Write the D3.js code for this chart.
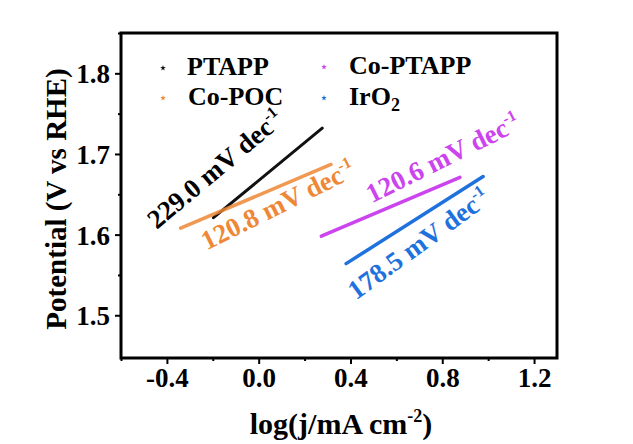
<!DOCTYPE html>
<html>
<head>
<meta charset="utf-8">
<script src="https://cdn.jsdelivr.net/npm/d3@7"></script>
<style>
    body { margin: 0; background: #fff; }
    text { font-family: "Liberation Serif", "Times New Roman", serif; font-weight: bold; }
</style>
</head>
<body>
<div id="chart"></div>
<script>
// Tafel data (start and end of each fitted segment)
var seriesNames = ["PTAPP", "Co-POC", "Co-PTAPP", "IrO2"];
var xStart = [-0.197, -0.34, 0.273, 0.381];
var xEnd = [0.277, 0.315, 0.877, 0.978];
var yStart = [1.621, 1.608, 1.598, 1.564];
var yEnd = [1.732, 1.687, 1.671, 1.672];
var slopeLabels = ["229.0", "120.8", "120.6", "178.5"];

var xTicks = [-0.4, 0.0, 0.4, 0.8, 1.2];
var xMinor = [-0.6, -0.2, 0.2, 0.6, 1.0];
var yTicks = [1.5, 1.6, 1.7, 1.8];
var yMinor = [1.55, 1.65, 1.75, 1.85];

var colors = ["#111111", "#ee8836", "#cc44ee", "#1f72dd"];

var width = 633, height = 444;
var margin = { top: 33, right: 76, bottom: 86, left: 121 };

var svg = d3
    .select("#chart")
    .append("svg")
    .attr("width", width)
    .attr("height", height);

var x = d3.scaleLinear().domain([-0.6, 1.3]).range([margin.left, width - margin.right]);
var y = d3.scaleLinear().domain([1.447, 1.85]).range([height - margin.bottom, margin.top]);

// axes
var xAxis = svg
    .append("g")
    .attr("transform", `translate(0,${height - margin.bottom})`)
    .call(d3.axisBottom(x).tickValues(xTicks).tickFormat(d3.format(".1f")).tickSize(6).tickPadding(4));
var xAxisMinor = svg
    .append("g")
    .attr("transform", `translate(0,${height - margin.bottom})`)
    .call(d3.axisBottom(x).tickValues(xMinor).tickFormat("").tickSize(3));

var yAxis = svg
    .append("g")
    .attr("transform", `translate(${margin.left},0)`)
    .call(d3.axisLeft(y).tickValues(yTicks).tickFormat(d3.format(".1f")).tickSize(6).tickPadding(5));
var yAxisMinor = svg
    .append("g")
    .attr("transform", `translate(${margin.left},0)`)
    .call(d3.axisLeft(y).tickValues(yMinor).tickFormat("").tickSize(3));

[xAxis, xAxisMinor, yAxis, yAxisMinor].forEach(function (a) {
    a.select(".domain").remove();
    a.selectAll(".tick line").attr("stroke", "#000").attr("stroke-width", 2);
    a.selectAll(".tick text")
        .attr("fill", "#000")
        .attr("font-size", 27)
        .style("font-family", '"Liberation Serif", serif')
        .style("font-weight", "bold");
});
xAxis.selectAll(".tick text").text(function (d) { return d3.format(".1f")(d).replace("−", "-"); });
yAxis.selectAll(".tick text").attr("dy", "0.35em");

// frame
svg.append("rect")
    .attr("x", margin.left)
    .attr("y", margin.top)
    .attr("width", width - margin.left - margin.right)
    .attr("height", height - margin.top - margin.bottom)
    .attr("fill", "none")
    .attr("stroke", "#000")
    .attr("stroke-width", 3);

// fitted lines
seriesNames.forEach(function (name, i) {
    svg.append("line")
        .attr("x1", x(xStart[i]))
        .attr("y1", y(yStart[i]))
        .attr("x2", x(xEnd[i]))
        .attr("y2", y(yEnd[i]))
        .attr("stroke", colors[i])
        .attr("stroke-width", i == 0 ? 3 : 3.5)
        .attr("stroke-linecap", "round")
        .attr("opacity", i == 1 ? 0.85 : 1);
});

// slope annotations
var annot = [
    { cx: 221, cy: 176, angle: -40 },
    { cx: 282, cy: 213, angle: -26.5 },
    { cx: 447, cy: 166, angle: -26.5 },
    { cx: 424, cy: 251, angle: -36 }
];
slopeLabels.forEach(function (s, i) {
    var t = svg.append("text")
        .attr("transform", `translate(${annot[i].cx},${annot[i].cy}) rotate(${annot[i].angle})`)
        .attr("text-anchor", "middle")
        .attr("font-size", 27)
        .attr("fill", colors[i] == "#111111" ? "#000" : colors[i]);
    t.append("tspan").text(s + " mV dec");
    t.append("tspan").text("-1").attr("font-size", 16).attr("dy", -11);
});

// legend
var legend = [
    { mx: 163, tx: 187, y: 75 },
    { mx: 163, tx: 188, y: 105 },
    { mx: 324, tx: 349, y: 74 },
    { mx: 324, tx: 349, y: 105 }
];
seriesNames.forEach(function (name, i) {
    svg.append("path")
        .attr("d", d3.symbol().type(d3.symbolStar).size(10))
        .attr("transform", `translate(${legend[i].mx},${legend[i].y - 7})`)
        .attr("fill", colors[i]);
    var t = svg.append("text")
        .attr("x", legend[i].tx)
        .attr("y", legend[i].y)
        .attr("font-size", 26)
        .attr("fill", "#000");
    if (name == "IrO2") {
        t.append("tspan").text("IrO");
        t.append("tspan").text("2").attr("font-size", 18).attr("dy", 6);
    } else {
        t.text(name);
    }
});

// axis titles
var xt = svg.append("text")
    .attr("x", 341)
    .attr("y", 434)
    .attr("text-anchor", "middle")
    .attr("font-size", 30)
    .attr("fill", "#000");
xt.append("tspan").text("log(j/mA cm");
xt.append("tspan").text("-2").attr("font-size", 18).attr("dy", -12);
xt.append("tspan").text(")").attr("dy", 12);

svg.append("text")
    .attr("transform", `translate(66,199) rotate(-90)`)
    .attr("text-anchor", "middle")
    .attr("font-size", 29)
    .attr("fill", "#000")
    .text("Potential (V vs RHE)");
</script>
</body>
</html>
